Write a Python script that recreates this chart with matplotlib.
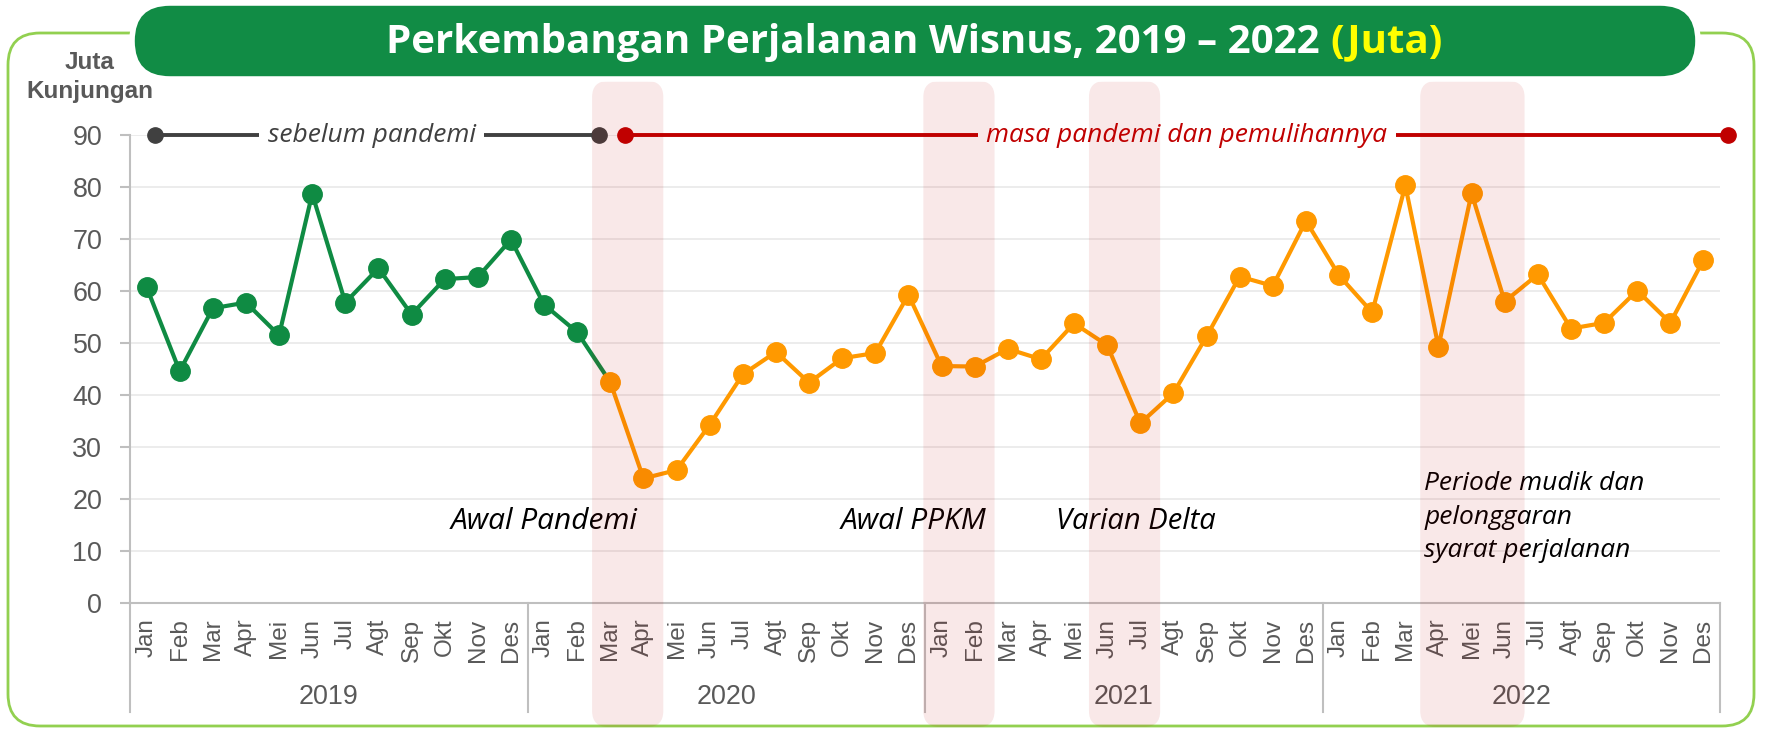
import matplotlib
matplotlib.use('Agg')
import matplotlib.pyplot as plt
import matplotlib.transforms as mtransforms
from matplotlib import font_manager
from matplotlib.patches import FancyBboxPatch

months = ['Jan', 'Feb', 'Mar', 'Apr', 'Mei', 'Jun', 'Jul', 'Agt', 'Sep', 'Okt', 'Nov', 'Des']
years = ['2019', '2020', '2021', '2022']

# juta kunjungan wisnus per bulan
wisnus_2019 = [60.8, 44.6, 56.7, 57.8, 51.5, 78.7, 57.8, 64.4, 55.5, 62.3, 62.7, 69.9]
wisnus_2020 = [57.4, 52.1, 42.5, 24.0, 25.6, 34.3, 44.0, 48.3, 42.4, 47.1, 48.1, 59.3]
wisnus_2021 = [45.6, 45.5, 48.9, 46.9, 53.8, 49.6, 34.6, 40.4, 51.3, 62.8, 61.0, 73.5]
wisnus_2022 = [63.0, 55.9, 80.3, 49.3, 78.8, 58.0, 63.2, 52.8, 53.9, 60.1, 53.9, 66.0]

pandemic_start = 14  # Mar 2020

# highlighted periods (first month index, last month index)
band_months = [(14, 15), (24, 25), (29, 30), (39, 41)]

event_labels = ['Awal Pandemi', 'Awal PPKM', 'Varian Delta',
                'Periode mudik dan\npelonggaran\nsyarat perjalanan']
event_x = [12.0, 23.15, 29.87, 38.57]
event_y = [15.8, 15.8, 15.8, 16.5]
event_ha = ['center', 'center', 'center', 'left']
event_size = [21.5, 21.5, 21, 19]

period_labels = ['sebelum pandemi', 'masa pandemi dan pemulihannya']
period_start = [0.25, 14.45]
period_end = [13.65, 47.75]
period_text_x = [6.8, 31.4]
period_colors = ['#404040', '#C00000']

GREEN = '#0F8B43'
ORANGE = '#FF9900'
GRAY = '#595959'

names = {f.name for f in font_manager.fontManager.ttflist}
if 'Liberation Sans Narrow' in names:
    NARROW, k = 'Liberation Sans Narrow', 1.0
else:
    NARROW, k = 'Liberation Sans', 0.92

values = wisnus_2019 + wisnus_2020 + wisnus_2021 + wisnus_2022
x = list(range(len(values)))
labels = months * len(years)

W, H = 1768, 729
fig = plt.figure(figsize=(W / 100, H / 100), dpi=100)
ax = fig.add_axes([130 / W, 1 - 603.3 / H, (1720 - 130) / W, (603.3 - 135) / H])
ax.set_xlim(-0.5, len(values) - 0.5)
ax.set_ylim(0, 90)

# lines
ax.plot(x[:pandemic_start + 1], values[:pandemic_start + 1], color=GREEN, lw=3, zorder=3)
ax.plot(x[:pandemic_start], values[:pandemic_start], 'o', color=GREEN, ms=14, zorder=4)
ax.plot(x[pandemic_start:], values[pandemic_start:], '-o', color=ORANGE, lw=3, ms=14, zorder=4)

# grid / axes styling
ax.set_yticks(range(0, 91, 10))
ax.grid(axis='y', color='#EBEBEB', lw=1.3, zorder=0)
for s in ['top', 'right']:
    ax.spines[s].set_visible(False)
for s in ['left', 'bottom']:
    ax.spines[s].set_color('#BFBFBF')
    ax.spines[s].set_linewidth(1.5)
ax.tick_params(axis='y', length=7, width=1.5, color='#BFBFBF', pad=13,
               labelsize=21 * k, labelcolor=GRAY)
for t in ax.get_yticklabels():
    t.set_family(NARROW)
ax.set_xticks(x)
ax.set_xticklabels(labels, rotation=90, family=NARROW, fontsize=19 * k, color=GRAY)
ax.tick_params(axis='x', length=0, pad=11)

# year separators and labels
sep_tr = mtransforms.blended_transform_factory(ax.transData, ax.transAxes)
for i in range(len(years) + 1):
    ax.plot([i * 12 - 0.5] * 2, [0, -0.233], color='#BFBFBF', lw=1.5,
            transform=sep_tr, clip_on=False, zorder=2)
for i, yr in enumerate(years):
    ax.text(i * 12 + 5.5, -0.2, yr, transform=sep_tr, ha='center', va='center',
            family=NARROW, fontsize=21 * k, color=GRAY)

# period timeline at the top
for lab, x0, x1, xt, c in zip(period_labels, period_start, period_end, period_text_x, period_colors):
    ax.plot([x0, x1], [90, 90], color=c, lw=2.8, clip_on=False, zorder=5)
    ax.plot([x0, x1], [90, 90], 'o', color=c, ms=11, clip_on=False, zorder=5)
    ax.text(xt, 90, lab, color=c, ha='center', va='center', family='Open Sans',
            style='italic', fontsize=19, zorder=6,
            bbox=dict(facecolor='white', edgecolor='none', pad=6))

# event notes
for lab, xe, ye, ha, fs in zip(event_labels, event_x, event_y, event_ha, event_size):
    ax.text(xe, ye, lab, ha=ha, va='center', family='Open Sans', style='italic',
            fontsize=fs, color='black', linespacing=1.45, zorder=6)

ident = mtransforms.IdentityTransform()

# shaded bands (drawn as translucent overlay)
for a, b in band_months:
    px0 = ax.transData.transform((a - 0.55, 0))[0]
    px1 = ax.transData.transform((b + 0.6, 0))[0]
    band = FancyBboxPatch((px0, 2), px1 - px0, 646, boxstyle='round,pad=0,rounding_size=16',
                          facecolor='#C00000', alpha=0.09, edgecolor='none',
                          transform=ident, zorder=10)
    fig.add_artist(band)

# outer frame
frame = FancyBboxPatch((8, 3), 1746, 693, boxstyle='round,pad=0,rounding_size=32',
                       facecolor='none', edgecolor='#92D050', lw=2, transform=ident, zorder=1)
fig.add_artist(frame)

# title pill
pill = FancyBboxPatch((132, 650), 1566, 76, boxstyle='round,pad=0,rounding_size=38',
                      facecolor='#118C45', edgecolor='white', lw=4, transform=ident, zorder=11)
fig.add_artist(pill)

title_main = 'Perkembangan Perjalanan Wisnus, 2019 \u2013 2022'
title_unit = '(Juta)'
fs_title = 29
t1 = fig.text(0, 0, title_main, color='white', family='Open Sans', weight='bold',
              fontsize=fs_title, va='center', zorder=12)
t2 = fig.text(0, 0, title_unit, color='#FFFF00', family='Open Sans', weight='bold',
              fontsize=fs_title, va='center', zorder=12)
r = fig.canvas.get_renderer()
w1 = t1.get_window_extent(r).width
w2 = t2.get_window_extent(r).width
gap = fs_title * 1.389 * 0.26
x_start = 914.5 - (w1 + gap + w2) / 2
t1.set_position((x_start / W, 1 - 42 / H))
t2.set_position(((x_start + w1 + gap) / W, 1 - 42 / H))

# y axis caption
fig.text(90 / W, 1 - 77 / H, 'Juta\nKunjungan', ha='center', va='center', multialignment='center',
         family=NARROW, weight='bold', fontsize=19 * k, color=GRAY, linespacing=1.35)

fig.savefig('out.png', dpi=100)
